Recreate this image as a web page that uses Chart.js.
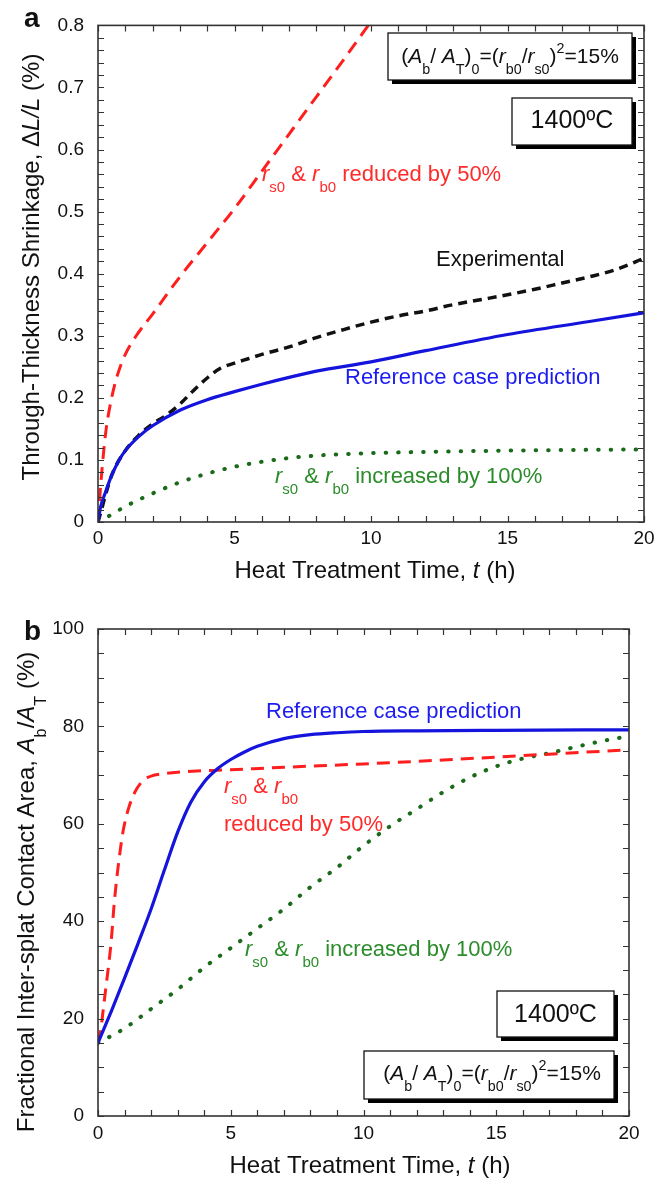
<!DOCTYPE html>
<html><head><meta charset="utf-8">
<script src="https://cdn.jsdelivr.net/npm/chart.js@4.4.0/dist/chart.umd.min.js"></script>
<style>
html,body{margin:0;padding:0;background:#fff;}
body{width:663px;height:1178px;position:relative;overflow:hidden;}
.wrap{position:absolute;left:0;width:663px;}
</style></head><body>
<div class="wrap" style="top:0;height:590px"><canvas id="ca"></canvas></div>
<div class="wrap" style="top:590px;height:588px"><canvas id="cb"></canvas></div>
<script>
const FONT = '"Liberation Sans", Arial, Helvetica, sans-serif';

// ---------- Panel a: through-thickness shrinkage (%) vs time (h) ----------
const tA_ref = [0,0.1,0.25,0.5,0.75,1,1.5,2,3,4,5,6,7,8,10,12,15,18,20];
const sA_ref = [0,0.025,0.045,0.075,0.098,0.115,0.138,0.155,0.18,0.197,0.21,0.222,0.233,0.243,0.258,0.276,0.302,0.323,0.337];
const tA_exp = [0,0.5,1,1.5,2,2.5,3,3.5,4,4.5,5,5.5,6,7,8,9,10,11,12,13,14,15,16,17,18,19,20];
const sA_exp = [0,0.075,0.115,0.14,0.158,0.172,0.19,0.212,0.232,0.248,0.256,0.263,0.27,0.282,0.297,0.31,0.322,0.332,0.34,0.35,0.358,0.366,0.375,0.385,0.395,0.407,0.425];
const tA_red = [0,0.05,0.1,0.2,0.3,0.5,0.7,1,1.4,2,3,4,5,6,7,8,9,9.9];
const sA_red = [0,0.03,0.06,0.11,0.15,0.2,0.235,0.27,0.3,0.335,0.395,0.45,0.505,0.565,0.625,0.685,0.745,0.8];
const tA_inc = [0,0.5,1,2,3,4,5,6,7,8,10,12,15,20];
const sA_inc = [0,0.012,0.025,0.046,0.064,0.078,0.089,0.097,0.103,0.107,0.111,0.113,0.115,0.117];

// ---------- Panel b: fractional inter-splat contact area (%) vs time (h) ----------
const tB_ref = [0,0.5,1,1.5,2,2.5,3,3.5,4,4.5,5,5.5,6,7,8,9,10,12,15,20];
const aB_ref = [15,21.5,28.3,35.3,42.5,50.5,58.3,64.5,68.6,71.3,73.2,74.7,75.9,77.5,78.3,78.7,78.95,79.1,79.2,79.3];
const tB_red = [0,0.1,0.2,0.3,0.4,0.5,0.6,0.7,0.8,0.9,1,1.2,1.4,1.6,1.8,2,2.5,3,5,7,10,13,16,20];
const aB_red = [15,17.5,22,26.5,31,36,43,48.5,53,57,60,64,66.6,68.3,69.3,69.8,70.3,70.6,71.1,71.6,72.3,73.1,74,75.2];
const tB_inc = [0,1,2,3,4,5,6,7,8,9,10,11,12,13,14,15,16,17,18,19,20];
const aB_inc = [15,18,22,26,30.5,34.5,38.5,42.5,47,51,55.5,59.5,63,66.5,69.5,71.8,73.4,74.5,75.8,77,78];

// ---------- Tick values / labels ----------
const xTickValues = [0,5,10,15,20];
const xTickLabels = ['0','5','10','15','20'];
const yTickValuesA = [0,0.1,0.2,0.3,0.4,0.5,0.6,0.7,0.8];
const yTickLabelsA = ['0','0.1','0.2','0.3','0.4','0.5','0.6','0.7','0.8'];
const yTickValuesB = [0,20,40,60,80,100];
const yTickLabelsB = ['0','20','40','60','80','100'];

const C_BLUE = '#1414dc', C_BLUE_T = '#1c1cf0';
const C_RED = '#ff1e1e', C_RED_T = '#ff2a2a';
const C_GREEN = '#1a6a1a', C_GREEN_T = '#2a8c2a';
const C_BLACK = '#111111';

const pts = (t, v) => t.map((x, i) => ({x, y: v[i]}));

function drawRich(ctx, segs, x, y, F, color, align) {
  let total = 0;
  const parts = segs.map(s => {
    const small = s.sub || s.sup;
    const size = small ? F * 0.68 : F;
    const font = (s.it ? 'italic ' : '') + (s.bold ? 'bold ' : '') + size.toFixed(1) + 'px ' + FONT;
    ctx.font = font;
    const w = ctx.measureText(s.t).width;
    total += w;
    return {s, font, w, dy: s.sub ? F * 0.5 : (s.sup ? -F * 0.48 : 0)};
  });
  let cx = align === 'center' ? x - total / 2 : x;
  ctx.fillStyle = color;
  ctx.textBaseline = 'alphabetic';
  ctx.textAlign = 'left';
  parts.forEach(p => { ctx.font = p.font; ctx.fillText(p.s.t, cx, y + p.dy); cx += p.w; });
}

function shadowBox(ctx, x, y, w, h) {
  ctx.save();
  ctx.fillStyle = '#000';
  ctx.fillRect(x + 4, y + 4, w, h);
  ctx.fillStyle = '#fff';
  ctx.fillRect(x, y, w, h);
  ctx.strokeStyle = '#111';
  ctx.lineWidth = 1.3;
  ctx.strokeRect(x, y, w, h);
  ctx.restore();
}

function makeDecor(cfg) {
  return {
    id: 'decor_' + cfg.key,
    afterDraw(chart) {
      const ctx = chart.ctx, a = chart.chartArea;
      const xs = chart.scales.x, ys = chart.scales.y;
      ctx.save();
      // frame
      ctx.strokeStyle = '#333'; ctx.lineWidth = 1.6;
      ctx.strokeRect(a.left, a.top, a.right - a.left, a.bottom - a.top);
      // inward ticks on all four sides
      ctx.lineWidth = 1.2;
      ctx.beginPath();
      for (let v = xs.min; v <= xs.max + 1e-9; v += cfg.xMinor) {
        const px = Math.round(xs.getPixelForValue(v)) + 0.5;
        ctx.moveTo(px, a.bottom); ctx.lineTo(px, a.bottom - 6);
        ctx.moveTo(px, a.top); ctx.lineTo(px, a.top + 6);
      }
      for (let v = ys.min; v <= ys.max + 1e-9; v += cfg.yMinor) {
        const py = Math.round(ys.getPixelForValue(v)) + 0.5;
        ctx.moveTo(a.left, py); ctx.lineTo(a.left + 6, py);
        ctx.moveTo(a.right, py); ctx.lineTo(a.right - 6, py);
      }
      ctx.stroke();
      // boxes
      cfg.boxes.forEach(b => {
        shadowBox(ctx, b.x, b.y, b.w, b.h);
        drawRich(ctx, b.segs, b.tx, b.ty, b.F, '#111', 'center');
      });
      // labels
      cfg.texts.forEach(t => drawRich(ctx, t.segs, t.x, t.y, t.F, t.color, t.align || 'left'));
      // axis titles
      drawRich(ctx, cfg.xTitle.segs, cfg.xTitle.x, cfg.xTitle.y, 24, '#111', 'center');
      ctx.save();
      ctx.translate(cfg.yTitle.x, cfg.yTitle.y);
      ctx.rotate(-Math.PI / 2);
      drawRich(ctx, cfg.yTitle.segs, 0, 0, 24, '#111', 'center');
      ctx.restore();
      // panel letter
      drawRich(ctx, [{t: cfg.letter.t, bold: true}], cfg.letter.x, cfg.letter.y, 28, '#111', 'left');
      ctx.restore();
    }
  };
}

const segsReduced = [{t:'r',it:1},{t:'s0',sub:1},{t:' & '},{t:'r',it:1},{t:'b0',sub:1},{t:' reduced by 50%'}];
const segsIncreased = [{t:'r',it:1},{t:'s0',sub:1},{t:' & '},{t:'r',it:1},{t:'b0',sub:1},{t:' increased by 100%'}];
const segsFormula = [{t:'('},{t:'A',it:1},{t:'b',sub:1},{t:'/ '},{t:'A',it:1},{t:'T',sub:1},{t:')'},{t:'0',sub:1},{t:'=('},{t:'r',it:1},{t:'b0',sub:1},{t:'/'},{t:'r',it:1},{t:'s0',sub:1},{t:')'},{t:'2',sup:1},{t:'=15%'}];
const segsTemp = [{t:'1400ºC'}];
const segsXTitle = [{t:'Heat Treatment Time, '},{t:'t',it:1},{t:' (h)'}];

function baseOptions(pad, xH, yW, ymin, ymax, yVals, yLabels, xPad) {
  return {
    responsive: true, maintainAspectRatio: false, animation: false,
    layout: {padding: pad},
    plugins: {legend: {display: false}, tooltip: {enabled: false}},
    scales: {
      x: {
        type: 'linear', min: 0, max: 20,
        afterFit(s) { s.height = xH; },
        afterBuildTicks(s) { s.ticks = xTickValues.map(v => ({value: v})); },
        grid: {display: false, drawTicks: false}, border: {display: false},
        ticks: {padding: xPad, autoSkip: false, maxRotation: 0, color: '#111',
          font: {size: 19, family: FONT}, callback: (v, i) => xTickLabels[i]}
      },
      y: {
        type: 'linear', min: ymin, max: ymax,
        afterFit(s) { s.width = yW; },
        afterBuildTicks(s) { s.ticks = yVals.map(v => ({value: v})); },
        grid: {display: false, drawTicks: false}, border: {display: false},
        ticks: {padding: 14, autoSkip: false, color: '#111',
          font: {size: 19, family: FONT}, callback: (v, i) => yLabels[i]}
      }
    }
  };
}

const lineBase = {pointRadius: 0, fill: false, cubicInterpolationMode: 'monotone'};

// ---------- Chart a ----------
new Chart(document.getElementById('ca'), {
  type: 'line',
  data: {datasets: [
    {...lineBase, label: 'Reference case prediction', data: pts(tA_ref, sA_ref), borderColor: C_BLUE, borderWidth: 3.2},
    {...lineBase, label: 'rs0 & rb0 reduced by 50%', data: pts(tA_red, sA_red), borderColor: C_RED, borderWidth: 3, borderDash: [13, 8]},
    {...lineBase, label: 'Experimental', data: pts(tA_exp, sA_exp), borderColor: C_BLACK, borderWidth: 3.5, borderDash: [9, 6]},
    {...lineBase, label: 'rs0 & rb0 increased by 100%', data: pts(tA_inc, sA_inc), borderColor: C_GREEN, borderWidth: 4, borderDash: [0.5, 12], borderCapStyle: 'round'}
  ]},
  options: baseOptions({top: 18, right: 19, left: 0, bottom: 0}, 68, 98, 0, 0.8, yTickValuesA, yTickLabelsA, 5),
  plugins: [makeDecor({
    key: 'a', xMinor: 1, yMinor: 0.02,
    letter: {t: 'a', x: 24, y: 27},
    xTitle: {segs: segsXTitle, x: 375, y: 578},
    yTitle: {segs: [{t:'Through-Thickness Shrinkage, Δ'},{t:'L/L',it:1},{t:' (%)'}], x: 39, y: 267},
    boxes: [
      {x: 388, y: 33, w: 244, h: 47, segs: segsFormula, tx: 510, ty: 63, F: 21},
      {x: 512, y: 98, w: 120, h: 47, segs: segsTemp, tx: 572, ty: 128, F: 25}
    ],
    texts: [
      {segs: segsReduced, x: 262, y: 181, F: 22, color: C_RED_T},
      {segs: [{t:'Experimental'}], x: 436, y: 266, F: 22, color: C_BLACK},
      {segs: [{t:'Reference case prediction'}], x: 345, y: 384, F: 22, color: C_BLUE_T},
      {segs: segsIncreased, x: 275, y: 483, F: 22, color: C_GREEN_T}
    ]
  })]
});

// ---------- Chart b ----------
new Chart(document.getElementById('cb'), {
  type: 'line',
  data: {datasets: [
    {...lineBase, label: 'Reference case prediction', data: pts(tB_ref, aB_ref), borderColor: C_BLUE, borderWidth: 3.2},
    {...lineBase, label: 'rs0 & rb0 reduced by 50%', data: pts(tB_red, aB_red), borderColor: C_RED, borderWidth: 3, borderDash: [13, 8]},
    {...lineBase, label: 'rs0 & rb0 increased by 100%', data: pts(tB_inc, aB_inc), borderColor: C_GREEN, borderWidth: 4, borderDash: [0.5, 12], borderCapStyle: 'round'}
  ]},
  options: baseOptions({top: 39, right: 34, left: 0, bottom: 0}, 62, 98, 0, 100, yTickValuesB, yTickLabelsB, 6),
  plugins: [makeDecor({
    key: 'b', xMinor: 1, yMinor: 5,
    letter: {t: 'b', x: 24, y: 50},
    xTitle: {segs: segsXTitle, x: 370, y: 583},
    yTitle: {segs: [{t:'Fractional Inter-splat Contact Area, '},{t:'A',it:1},{t:'b',sub:1},{t:'/'},{t:'A',it:1},{t:'T',sub:1},{t:' (%)'}], x: 34, y: 302},
    boxes: [
      {x: 497, y: 401, w: 117, h: 46, segs: segsTemp, tx: 555.5, ty: 431.5, F: 25},
      {x: 364, y: 461, w: 250, h: 48, segs: segsFormula, tx: 492, ty: 490, F: 21}
    ],
    texts: [
      {segs: [{t:'Reference case prediction'}], x: 266, y: 128, F: 22, color: C_BLUE_T},
      {segs: [{t:'r',it:1},{t:'s0',sub:1},{t:' & '},{t:'r',it:1},{t:'b0',sub:1}], x: 224, y: 203, F: 22, color: C_RED_T},
      {segs: [{t:'reduced by 50%'}], x: 224, y: 240.5, F: 22, color: C_RED_T},
      {segs: segsIncreased, x: 245, y: 366, F: 22, color: C_GREEN_T}
    ]
  })]
});
</script>
</body></html>
